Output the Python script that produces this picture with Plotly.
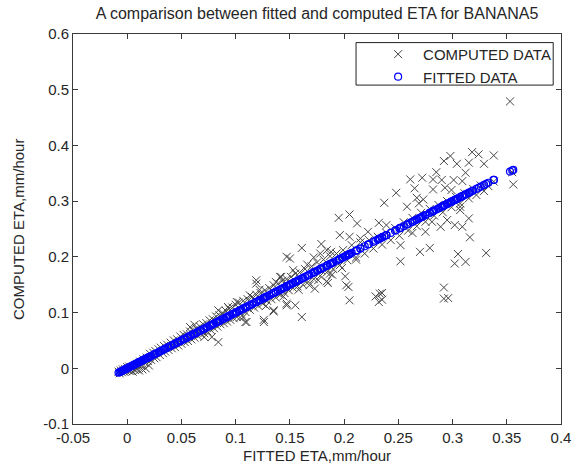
import plotly.graph_objects as go

# ---- data: (fitted ETA, computed ETA) pairs ----
fitted_eta = [
    # dense band near origin
    -0.008, -0.007, -0.006, -0.005, -0.004, -0.003, -0.002, -0.001, 0.000, 0.001,
    0.002, 0.003, 0.004, 0.005, 0.006, 0.007, 0.008, 0.009, 0.010, 0.011,
    0.012, 0.013, 0.014, 0.015, 0.016, 0.017, 0.018, 0.019, 0.020,
    # 0.02 - 0.10
    0.021, 0.022, 0.024, 0.025, 0.026, 0.027, 0.029, 0.030, 0.031, 0.033,
    0.034, 0.035, 0.037, 0.038, 0.040, 0.041, 0.043, 0.044, 0.046, 0.047,
    0.049, 0.050, 0.052, 0.053, 0.055, 0.056, 0.058, 0.059, 0.061, 0.062,
    0.064, 0.065, 0.067, 0.068, 0.070, 0.071, 0.073, 0.074, 0.076, 0.077,
    0.079, 0.080, 0.082, 0.083, 0.085, 0.086, 0.088, 0.089, 0.091, 0.092,
    0.094, 0.095, 0.097, 0.098, 0.100, 0.101,
    # 0.10 - 0.20
    0.103, 0.105, 0.107, 0.109, 0.111, 0.113, 0.115, 0.117, 0.119, 0.121,
    0.123, 0.125, 0.127, 0.129, 0.131, 0.133, 0.135, 0.137, 0.139, 0.141,
    0.143, 0.145, 0.147, 0.149, 0.151, 0.153, 0.155, 0.157, 0.159, 0.162,
    0.164, 0.167, 0.170, 0.172, 0.175, 0.178, 0.181, 0.184, 0.187, 0.190,
    0.193, 0.196, 0.199,
    # 0.20 - 0.34
    0.203, 0.207, 0.211, 0.215, 0.219, 0.223, 0.227, 0.231, 0.235, 0.239,
    0.243, 0.247, 0.251, 0.255, 0.259, 0.263, 0.267, 0.271, 0.275, 0.279,
    0.283, 0.287, 0.291, 0.295, 0.299, 0.303, 0.307, 0.311, 0.315, 0.319,
    0.322, 0.326, 0.329, 0.333, 0.338,
    # scattered points
    0.353, 0.356, 0.355,
    0.338, 0.318, 0.324, 0.298, 0.292, 0.304, 0.315, 0.329, 0.312, 0.285,
    0.261, 0.272, 0.282, 0.290, 0.301, 0.309, 0.265, 0.282, 0.293, 0.299,
    0.248, 0.267, 0.273, 0.237, 0.258, 0.307,
    0.269, 0.307, 0.315, 0.281, 0.295, 0.302, 0.289, 0.309, 0.275, 0.263,
    0.316, 0.252, 0.270, 0.279, 0.305, 0.331, 0.312, 0.302, 0.252, 0.292,
    0.292, 0.296, 0.235, 0.235,
    0.195, 0.205, 0.212, 0.232, 0.196, 0.205, 0.222, 0.215, 0.239, 0.161,
    0.179, 0.184, 0.178, 0.172, 0.150, 0.211, 0.196, 0.153, 0.179, 0.187,
    0.201, 0.184, 0.202, 0.204, 0.173, 0.119, 0.142, 0.144, 0.147, 0.155,
    0.135, 0.161, 0.126, 0.205, 0.229, 0.233, 0.232, 0.185,
    0.084, 0.078, 0.126, 0.135, 0.110, 0.107, 0.119, 0.141, 0.147, 0.084,
    0.101, 0.058, 0.147, 0.109,
    # extra spread near the band
    0.062, 0.071, 0.093, 0.104, 0.113, 0.128, 0.137, 0.158, 0.166, 0.176,
    0.188, 0.198, 0.122, 0.168, 0.189,
]

computed_eta = [
    # dense band near origin
    -0.006, -0.009, -0.004, -0.007, -0.002, -0.006, -0.001, -0.005, 0.002, -0.004,
    0.003, -0.005, 0.001, -0.006, 0.004, -0.003, 0.006, -0.002, 0.008, -0.004,
    0.012, 0.005, -0.002, 0.016, 0.010, 0.000, 0.019, 0.013, 0.005,
    # 0.02 - 0.10
    0.026, 0.015, 0.028, 0.018, 0.031, 0.020, 0.034, 0.024, 0.037, 0.027,
    0.040, 0.030, 0.042, 0.033, 0.046, 0.036, 0.050, 0.038, 0.052, 0.041,
    0.057, 0.044, 0.060, 0.047, 0.061, 0.049, 0.066, 0.052, 0.068, 0.055,
    0.071, 0.058, 0.075, 0.061, 0.079, 0.063, 0.081, 0.066, 0.086, 0.069,
    0.088, 0.072, 0.093, 0.075, 0.095, 0.079, 0.099, 0.081, 0.103, 0.084,
    0.107, 0.087, 0.109, 0.090, 0.114, 0.092,
    # 0.10 - 0.20
    0.118, 0.098, 0.121, 0.101, 0.124, 0.105, 0.128, 0.109, 0.132, 0.112,
    0.135, 0.116, 0.140, 0.121, 0.144, 0.124, 0.149, 0.127, 0.152, 0.132,
    0.157, 0.135, 0.160, 0.140, 0.164, 0.144, 0.170, 0.147, 0.172, 0.150,
    0.178, 0.155, 0.183, 0.160, 0.190, 0.166, 0.195, 0.172, 0.201, 0.178,
    0.206, 0.185, 0.212,
    # 0.20 - 0.34
    0.194, 0.221, 0.199, 0.226, 0.206, 0.230, 0.215, 0.236, 0.222, 0.243,
    0.230, 0.252, 0.238, 0.262, 0.247, 0.270, 0.255, 0.279, 0.263, 0.286,
    0.274, 0.293, 0.280, 0.300, 0.289, 0.308, 0.296, 0.314, 0.305, 0.322,
    0.311, 0.328, 0.318, 0.327, 0.335,
    # scattered points
    0.479, 0.330, 0.352,
    0.382, 0.388, 0.384, 0.381, 0.372, 0.367, 0.369, 0.367, 0.351, 0.352,
    0.339, 0.342, 0.339, 0.338, 0.338, 0.336, 0.323, 0.321, 0.324, 0.320,
    0.315, 0.306, 0.303, 0.297, 0.290, 0.290,
    0.296, 0.284, 0.269, 0.263, 0.266, 0.257, 0.254, 0.254, 0.245, 0.243,
    0.235, 0.221, 0.209, 0.216, 0.205, 0.207, 0.191, 0.188, 0.192, 0.145,
    0.125, 0.126, 0.135, 0.123,
    0.270, 0.276, 0.260, 0.261, 0.239, 0.236, 0.245, 0.233, 0.257, 0.216,
    0.223, 0.212, 0.206, 0.199, 0.197, 0.195, 0.200, 0.176, 0.176, 0.170,
    0.165, 0.156, 0.149, 0.146, 0.143, 0.158, 0.164, 0.129, 0.113, 0.113,
    0.104, 0.092, 0.087, 0.122, 0.129, 0.134, 0.119, 0.153,
    0.047, 0.056, 0.083, 0.102, 0.083, 0.092, 0.152, 0.164, 0.200, 0.104,
    0.119, 0.074, 0.116, 0.083,
    # extra spread near the band
    0.078, 0.056, 0.110, 0.091, 0.131, 0.112, 0.155, 0.141, 0.186, 0.158,
    0.209, 0.180, 0.141, 0.149, 0.168,
]

x_ticks = [-0.05, 0, 0.05, 0.1, 0.15, 0.2, 0.25, 0.3, 0.35, 0.4]
x_tick_text = ["-0.05", "0", "0.05", "0.1", "0.15", "0.2", "0.25", "0.3", "0.35", "0.4"]
y_ticks = [-0.1, 0, 0.1, 0.2, 0.3, 0.4, 0.5, 0.6]
y_tick_text = ["-0.1", "0", "0.1", "0.2", "0.3", "0.4", "0.5", "0.6"]

FONT = "Liberation Sans, Arial, sans-serif"
TXT = "#262626"
AX = "#3a3a3a"

fig = go.Figure()
fig.add_trace(go.Scatter(
    x=fitted_eta, y=computed_eta, mode="markers", name="COMPUTED DATA",
    marker=dict(symbol="x-thin-open", size=8, color="#454545",
                line=dict(width=1, color="#454545")),
))
fig.add_trace(go.Scatter(
    x=fitted_eta, y=fitted_eta, mode="markers", name="FITTED DATA",
    marker=dict(symbol="circle-open", size=7, color="#0000ff",
                line=dict(width=1.2, color="#0000ff")),
))

axis_common = dict(
    showgrid=False, zeroline=False, showline=True, linecolor=AX, linewidth=1,
    ticks="inside", ticklen=5, tickcolor=AX, mirror="ticks", automargin=False,
    tickfont=dict(family=FONT, size=15, color=TXT),
)

# legend box (drawn as a shape, legend itself has no border)
fig.add_shape(type="rect", xref="paper", yref="paper",
              x0=0.580, x1=0.984, y0=0.869, y1=0.978,
              line=dict(color="#222", width=1), fillcolor="white", layer="below")

# axis titles
fig.add_annotation(text="FITTED ETA,mm/hour", xref="paper", yref="paper",
                   x=0.5, y=(424 - 455) / 390, xanchor="center", yanchor="middle",
                   showarrow=False, font=dict(family=FONT, size=15, color=TXT))
fig.add_annotation(text="COMPUTED ETA,mm/hour", xref="paper", yref="paper",
                   x=(18 - 73) / 488, y=(424 - 230) / 390, xanchor="center",
                   yanchor="middle", textangle=-90,
                   showarrow=False, font=dict(family=FONT, size=15, color=TXT))

fig.update_layout(
    width=577, height=466,
    margin=dict(l=73, r=16, t=34, b=42, autoexpand=False),
    paper_bgcolor="white", plot_bgcolor="rgba(0,0,0,0)",
    font=dict(family=FONT, size=14, color=TXT),
    title=dict(text="A comparison between fitted and computed ETA for BANANA5",
               x=0.5, xref="paper", xanchor="center",
               y=1 - 13 / 466, yref="container", yanchor="middle",
               font=dict(family=FONT, size=16, color=TXT)),
    xaxis=dict(range=[-0.05, 0.4], tickvals=x_ticks, ticktext=x_tick_text,
               **axis_common),
    yaxis=dict(range=[-0.1, 0.6], tickvals=y_ticks, ticktext=y_tick_text,
               **axis_common),
    legend=dict(x=0.99, y=0.99, xanchor="right", yanchor="top",
                borderwidth=0, bgcolor="rgba(0,0,0,0)", itemwidth=40,
                font=dict(family=FONT, size=15, color=TXT),
                tracegroupgap=0),
    showlegend=True,
)

fig.write_html("out.html")
